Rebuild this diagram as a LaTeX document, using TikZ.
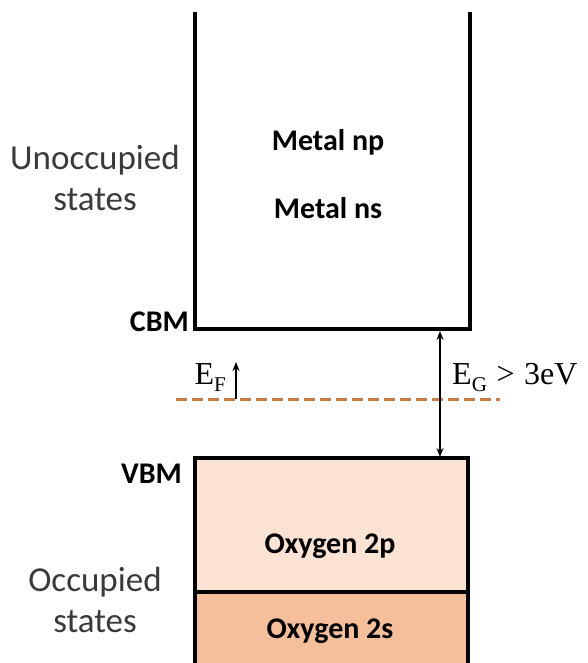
\documentclass[tikz,border=0pt]{standalone}
\usepackage{fontspec}
\setmainfont{Carlito}
\newfontfamily\serifeg{Liberation Serif}
\usetikzlibrary{arrows.meta}
\definecolor{opp}{HTML}{FBE3D4}
\definecolor{oss}{HTML}{F5BF9B}
\definecolor{fermi}{HTML}{C97D45}
\definecolor{lbl}{HTML}{3A3A3A}
\begin{document}
\begin{tikzpicture}[x=1pt,y=-1pt,
  band/.style={line width=3.4pt, line cap=rect},
  boldlbl/.style={font=\fontsize{30}{34}\selectfont\bfseries, text=black, inner sep=0pt},
  sidelbl/.style={font=\fontsize{35}{41}\selectfont, text=lbl, align=center, inner sep=0pt},
  gap/.style={line width=1.5pt, {Stealth[length=9pt,width=7pt]}-{Stealth[length=9pt,width=7pt]}},
  single/.style={line width=1.6pt, -{Stealth[length=9pt,width=7pt]}},
  eqlbl/.style={inner sep=0pt, font=\fontsize{32}{38}\selectfont\serifeg}]
\useasboundingbox (0,0) rectangle (588,663);
% coordinates
\coordinate (cbmL) at (195,329);
\coordinate (cbmR) at (470,329);
\coordinate (topL) at (195,14);
\coordinate (topR) at (470,14);
\coordinate (vbmL) at (195,458);
\coordinate (vbmR) at (468,458);
\coordinate (divL) at (195,592);
\coordinate (divR) at (468,592);
\coordinate (botL) at (195,663);
\coordinate (botR) at (468,663);
% fills
\fill[opp] (vbmL) rectangle (divR);
\fill[oss] (divL) rectangle (botR);
% conduction band
\draw[band] (topL) -- (cbmL) -- (cbmR) -- (topR);
% valence band
\draw[band] (botL) -- (vbmL) -- (vbmR) -- (botR);
\draw[band] (divL) -- (divR);
% Fermi level
\coordinate (fL) at (176,399);
\coordinate (fR) at (500,399);
\draw[fermi, line width=3pt, dash pattern=on 11pt off 5pt] (fL) -- (fR);
% gap arrow
\coordinate (ga) at (440,331);
\coordinate (gb) at (440,457);
\draw[gap] (ga) -- (gb);
% EF arrow
\coordinate (ea) at (236,399);
\coordinate (eb) at (236,362);
\draw[single] (ea) -- (eb);
% labels
\node[boldlbl] (np) at (328,142) {Metal np};
\node[boldlbl] (ns) at (328,208) {Metal ns};
\node[boldlbl, anchor=east] (cbm) at (189,322) {CBM};
\node[boldlbl, anchor=east] (vbm) at (182,474) {VBM};
\node[boldlbl] (o2p) at (330,546) {Oxygen 2p};
\node[boldlbl] (o2s) at (330,631) {Oxygen 2s};
\node[sidelbl] (unocc) at (95,178) {Unoccupied\\states};
\node[sidelbl] (occ) at (95,600) {Occupied\\states};
\node[eqlbl, anchor=base west] (eg) at (452,384) {E\raisebox{-0.22em}{\fontsize{21}{24}\selectfont G}\hspace{0.3em}>\hspace{0.3em}3eV};
\node[eqlbl, anchor=base east] (ef) at (226,384) {E\raisebox{-0.22em}{\fontsize{21}{24}\selectfont F}};
\end{tikzpicture}
\end{document}
